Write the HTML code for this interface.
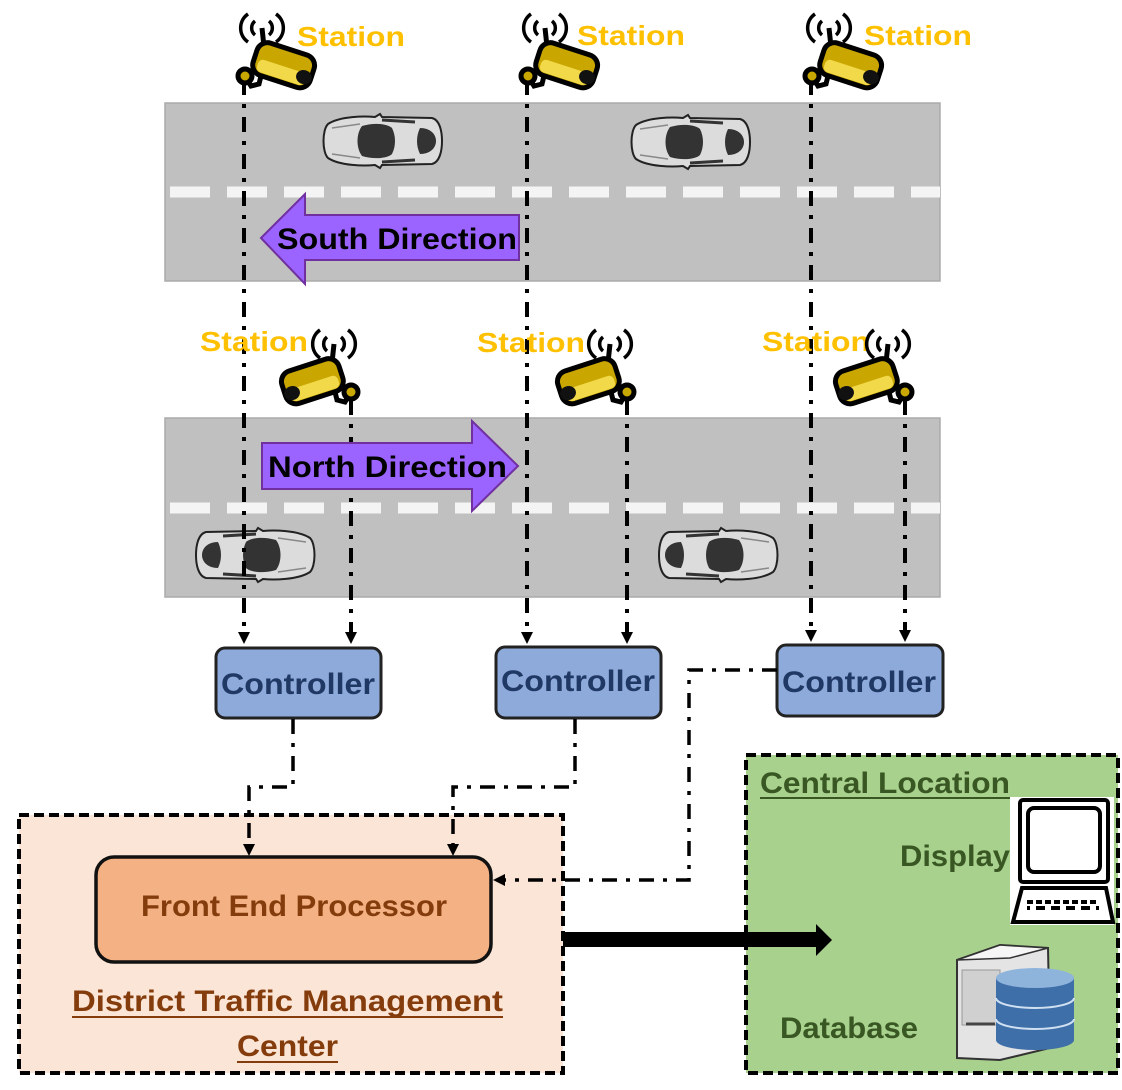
<!DOCTYPE html>
<html><head><meta charset="utf-8"><style>html,body{margin:0;padding:0;background:#fff}svg{display:block}</style></head>
<body>
<svg width="1122" height="1090" viewBox="0 0 1122 1090" xmlns="http://www.w3.org/2000/svg" font-family="Liberation Sans, sans-serif" font-weight="bold">
<defs>
  <marker id="ah" markerWidth="12" markerHeight="12" refX="6" refY="6" orient="auto" markerUnits="userSpaceOnUse"><path d="M0,0 L12,6 L0,12 z" fill="#000"/></marker>
  <g id="cam">
    <path d="M11,6 A17,17 0 0 0 11,34" fill="none" stroke="#000" stroke-width="3.5"/>
    <path d="M39,6 A17,17 0 0 1 39,34" fill="none" stroke="#000" stroke-width="3.5"/>
    <path d="M18,13 A9,9 0 0 0 18,27" fill="none" stroke="#000" stroke-width="3.5"/>
    <path d="M32,13 A9,9 0 0 1 32,27" fill="none" stroke="#000" stroke-width="3.5"/>
    <line x1="25" y1="20" x2="28" y2="48" stroke="#000" stroke-width="5"/>
    <path d="M8,68 L14,78 L22,76 L25,64 L34,66" fill="none" stroke="#000" stroke-width="5"/>
    <circle cx="8" cy="68" r="7" fill="#c8a800" stroke="#000" stroke-width="5"/>
    <g transform="rotate(18 46 56)">
      <rect x="17" y="40" width="60" height="34" rx="11" fill="#c9a600" stroke="#000" stroke-width="5"/>
      <rect x="22" y="58" width="50" height="13" rx="5" fill="#f2d94a"/>
      <ellipse cx="70" cy="62" rx="8" ry="7" fill="#111"/>
    </g>
  </g>
  <g id="car">
    <path d="M8,12 C20,4 45,4 55,5 L60,2 L62,5 L112,6 C120,8 122,20 122,29 C122,38 120,50 112,52 L62,53 L60,56 L55,53 C45,54 20,54 8,46 C2,40 2,18 8,12 z" fill="#dcdcdc" stroke="#222" stroke-width="2"/>
    <path d="M12,16 L40,12 M12,42 L40,46" stroke="#888" stroke-width="1.5"/>
    <path d="M42,14 C55,10 68,12 72,16 C76,24 76,34 72,42 C68,46 55,48 42,44 C36,36 36,22 42,14 z" fill="#333"/>
    <path d="M100,16 C110,16 116,22 116,29 C116,36 110,42 100,42 C96,34 96,24 100,16 z" fill="#333"/>
    <path d="M62,8 L95,10 M62,50 L95,48" stroke="#333" stroke-width="3"/>
  </g>
</defs>

<rect x="165" y="103" width="775" height="178" fill="#c0c0c0" stroke="#aaa" stroke-width="1.5"/>
<rect x="165" y="418" width="775" height="179" fill="#c0c0c0" stroke="#aaa" stroke-width="1.5"/>
<line x1="170" y1="192" x2="940" y2="192" stroke="#f4f4f4" stroke-width="11" stroke-dasharray="40 17"/>
<line x1="170" y1="508" x2="940" y2="508" stroke="#f4f4f4" stroke-width="11" stroke-dasharray="40 17"/>

<use href="#car" transform="translate(320,112)"/>
<use href="#car" transform="translate(628,113)"/>
<use href="#car" transform="translate(318,526) scale(-1,1)"/>
<use href="#car" transform="translate(781,526) scale(-1,1)"/>

<polygon points="261,238 305,194 305,215 519,215 519,260 305,260 305,284" fill="#9b63ff" stroke="#7030a0" stroke-width="2"/>
<text x="277" y="249" font-size="30" fill="#000" textLength="240" lengthAdjust="spacingAndGlyphs">South Direction</text>

<g stroke="#000" stroke-width="4" fill="none" stroke-dasharray="15 9 4 9" marker-end="url(#ah)">
  <line x1="244" y1="80" x2="244" y2="638"/>
  <line x1="527" y1="80" x2="527" y2="638"/>
  <line x1="811" y1="80" x2="811" y2="636"/>
  <line x1="351" y1="400" x2="351" y2="638"/>
  <line x1="627" y1="400" x2="627" y2="638"/>
  <line x1="905" y1="400" x2="905" y2="636"/>
</g>
<polygon points="262,443 472,443 472,421 518,466 472,511 472,489 262,489" fill="#9b63ff" stroke="#7030a0" stroke-width="2"/>
<text x="268" y="477" font-size="30" fill="#000" textLength="239" lengthAdjust="spacingAndGlyphs">North Direction</text>

<use href="#cam" transform="translate(237,8)"/>
<use href="#cam" transform="translate(520,8)"/>
<use href="#cam" transform="translate(804,8)"/>
<g font-size="28" fill="#ffc000">
<text x="297" y="46" textLength="108" lengthAdjust="spacingAndGlyphs">Station</text>
<text x="577" y="45" textLength="108" lengthAdjust="spacingAndGlyphs">Station</text>
<text x="864" y="45" textLength="108" lengthAdjust="spacingAndGlyphs">Station</text>
<text x="200" y="351" textLength="108" lengthAdjust="spacingAndGlyphs">Station</text>
<text x="477" y="352" textLength="108" lengthAdjust="spacingAndGlyphs">Station</text>
<text x="762" y="351" textLength="108" lengthAdjust="spacingAndGlyphs">Station</text>
</g>
<use href="#cam" transform="translate(359,324) scale(-1,1)"/>
<use href="#cam" transform="translate(635,324) scale(-1,1)"/>
<use href="#cam" transform="translate(913,324) scale(-1,1)"/>

<g fill="#8eaadb" stroke="#222" stroke-width="3">
<rect x="216" y="648" width="165" height="70" rx="9"/>
<rect x="496" y="647" width="165" height="71" rx="9"/>
<rect x="777" y="645" width="166" height="71" rx="9"/>
</g>
<g font-size="30" fill="#1f3864">
<text x="221" y="694" textLength="154" lengthAdjust="spacingAndGlyphs">Controller</text>
<text x="501" y="691" textLength="154" lengthAdjust="spacingAndGlyphs">Controller</text>
<text x="782" y="692" textLength="154" lengthAdjust="spacingAndGlyphs">Controller</text>
</g>

<rect x="19" y="815" width="544" height="258" fill="#fbe5d6" stroke="#000" stroke-width="4" stroke-dasharray="10 5"/>
<rect x="746" y="755" width="372" height="318" fill="#a9d18e" stroke="#000" stroke-width="4" stroke-dasharray="10 5"/>

<g stroke="#000" stroke-width="3.5" fill="none" stroke-dasharray="15 9 4 9" marker-end="url(#ah)">
  <polyline points="293,719 293,787 249,787 249,850"/>
  <polyline points="575,719 575,787 453,787 453,850"/>
  <polyline points="777,670 689,670 689,880 499,880"/>
</g>

<rect x="96" y="857" width="395" height="105" rx="18" fill="#f4b183" stroke="#111" stroke-width="3.5"/>
<text x="141" y="916" font-size="30" fill="#843c0c" textLength="306" lengthAdjust="spacingAndGlyphs">Front End Processor</text>
<text x="72" y="1011" font-size="30" fill="#843c0c" textLength="431" lengthAdjust="spacingAndGlyphs">District Traffic Management</text>
<rect x="72" y="1016" width="431" height="2" fill="#843c0c"/>
<text x="237" y="1056" font-size="30" fill="#843c0c" textLength="101" lengthAdjust="spacingAndGlyphs">Center</text>
<rect x="237" y="1061" width="101" height="2" fill="#843c0c"/>

<rect x="563" y="932" width="254" height="15" fill="#000"/>
<polygon points="816,924 832,940 816,956" fill="#000"/>

<text x="760" y="793" font-size="30" fill="#385723" textLength="250" lengthAdjust="spacingAndGlyphs">Central Location</text>
<rect x="760" y="797" width="250" height="2" fill="#385723"/>
<text x="900" y="866" font-size="30" fill="#385723" textLength="110" lengthAdjust="spacingAndGlyphs">Display</text>
<text x="780" y="1038" font-size="30" fill="#385723" textLength="138" lengthAdjust="spacingAndGlyphs">Database</text>

<rect x="1010" y="797" width="104" height="128" fill="#fff"/>
<rect x="1020" y="800" width="88" height="82" rx="3" fill="#fff" stroke="#000" stroke-width="4"/>
<rect x="1028" y="808" width="72" height="64" rx="6" fill="#fff" stroke="#000" stroke-width="4"/>
<path d="M1022,888 L1106,888 L1113,922 L1013,922 z" fill="#fff" stroke="#000" stroke-width="4"/>
<line x1="1027" y1="902" x2="1099" y2="902" stroke="#000" stroke-width="4" stroke-dasharray="6 3"/>
<line x1="1027" y1="908" x2="1099" y2="908" stroke="#000" stroke-width="4" stroke-dasharray="3 6 6 0"/>

<path d="M957,960 L1000,945 L1048,948 L1050,1048 L1000,1060 L957,1058 z" fill="#e4e4e4" stroke="#333" stroke-width="2"/>
<path d="M957,960 L1000,945 L1048,948 L1010,958 z" fill="#f6f6f6" stroke="#333" stroke-width="1.5"/>
<rect x="962" y="970" width="38" height="55" fill="#d0d0d0" stroke="#999"/>
<line x1="966" y1="1024" x2="995" y2="1024" stroke="#444" stroke-width="3"/>
<path d="M996,978 L996,1040 A39,10 0 0 0 1074,1040 L1074,978 z" fill="#3f6fa8"/>
<ellipse cx="1035" cy="978" rx="39" ry="10" fill="#8fb4dc"/>
<path d="M996,998 A39,10 0 0 0 1074,998 M996,1019 A39,10 0 0 0 1074,1019" stroke="#cfe0f2" stroke-width="2" fill="none"/>
</svg>
</body></html>
